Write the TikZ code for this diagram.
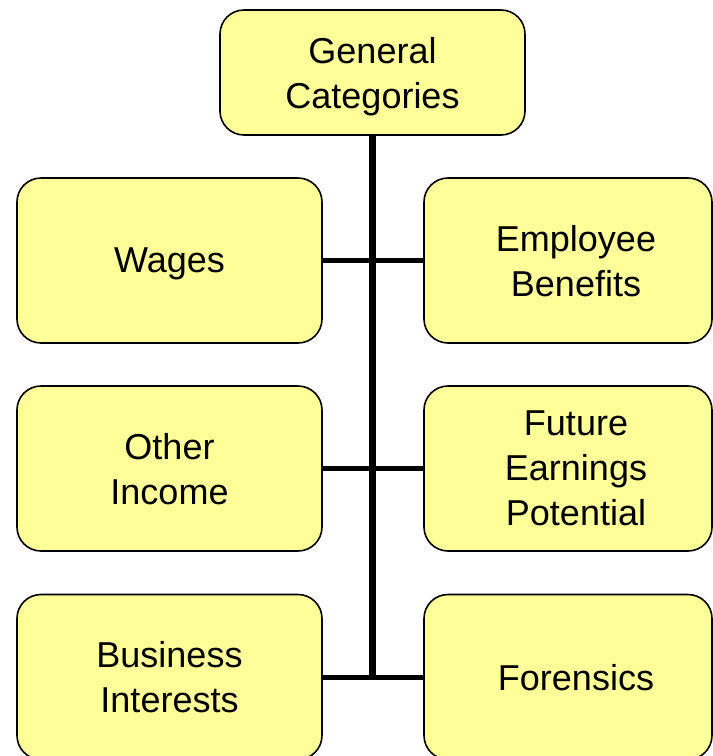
\documentclass[tikz,border=0pt]{standalone}
\usepackage{fontspec}
\setmainfont{Liberation Sans}
\definecolor{boxyellow}{RGB}{255,255,153}
\tikzset{
  cat/.style={draw, line width=1.6pt, fill=boxyellow, rounded corners=24pt,
    align=center, font=\fontsize{36}{45}\selectfont, inner sep=0pt, text depth=0pt},
  bus/.style={line width=5pt}
}
\begin{document}
\begin{tikzpicture}[x=1pt, y=-1pt]
    \useasboundingbox (0,0) rectangle (713,756);
    \node[cat, minimum width=305pt, minimum height=125pt] (gen) at (372.5,72.5) {General\\Categories};

    \node[cat, minimum width=305pt, minimum height=165pt] (wag) at (169.5,260.5) {Wages};
    \node[cat, minimum width=305pt, minimum height=165pt] (oth) at (169.5,468.5) {Other\\Income};
    \node[cat, minimum width=305pt, minimum height=165pt] (bus) at (169.5,677) {Business\\Interests};

    % right column is cut by the page edge, text stays a bit right
    \node[cat, minimum width=288pt, minimum height=165pt] (emp) at (568,260.5)
      {\hspace*{16pt}Employee\\\hspace*{16pt}Benefits};
    \node[cat, minimum width=288pt, minimum height=165pt] (fut) at (568,468.5)
      {\hspace*{16pt}Future\\\hspace*{16pt}Earnings\\\hspace*{16pt}Potential};
    \node[cat, minimum width=288pt, minimum height=165pt] (for) at (568,677)
      {\hspace*{16pt}Forensics};

    \draw[bus, line width=6.5pt] (gen.south) -- (gen.south |- bus.east);
    \foreach \l/\r in {wag/emp, oth/fut, bus/for}
      \draw[bus] (\l.east) -- (\r.west);
  \end{tikzpicture}
\end{document}
